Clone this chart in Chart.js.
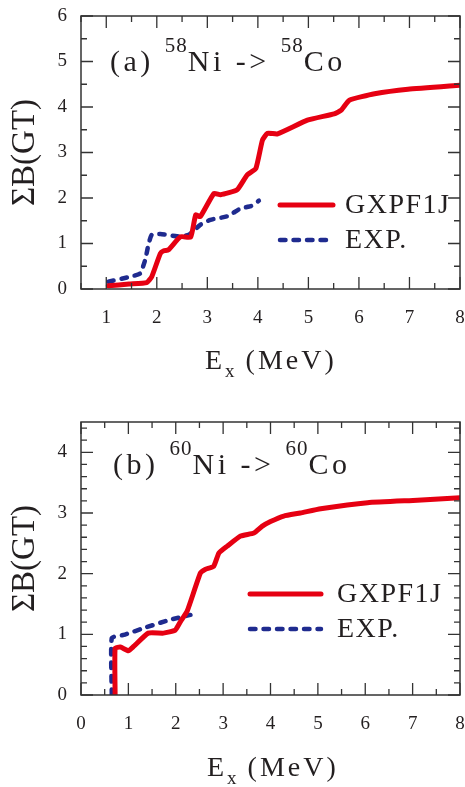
<!DOCTYPE html>
<html>
<head>
<meta charset="utf-8">
<script src="https://cdn.jsdelivr.net/npm/chart.js@4"></script>
<style>
  html, body { margin:0; padding:0; background:#fff; }
  #wrap { position:relative; width:465px; height:787px; overflow:hidden; }
  canvas { position:absolute; left:0; }
  .txt { position:absolute; font-family:"Liberation Serif", "Times New Roman", serif; color:#231f20; white-space:nowrap; line-height:1; }
  .ann { font-size:30px; letter-spacing:3.5px; }
  .ann sup { font-size:21px; letter-spacing:1px; vertical-align:0; position:relative; top:-19px; }
  .xt { font-size:28px; letter-spacing:3px; }
  .xt sub { font-size:19px; vertical-align:0; position:relative; top:8px; letter-spacing:1px; }
</style>
</head>
<body>
<div id="wrap">
  <canvas id="c1" width="465" height="390" style="top:0"></canvas>
  <canvas id="c2" width="465" height="397" style="top:390px"></canvas>
  <div class="txt ann" style="left:110px; top:46px">(a) <sup>58</sup>Ni -&gt; <sup>58</sup>Co</div>
  <div class="txt ann" style="left:113px; top:449px">(b) <sup>60</sup>Ni -&gt; <sup>60</sup>Co</div>
  <div class="txt xt" style="left:205px; top:346px">E<sub>x</sub> (MeV)</div>
  <div class="txt xt" style="left:207px; top:753px">E<sub>x</sub> (MeV)</div>
</div>
<script>
// ---- data: panel (a) 58Ni -> 58Co ----
const gxpfA_x = [1.04, 1.45, 1.80, 1.90, 2.07, 2.14, 2.23, 2.47, 2.67, 2.77, 2.86, 3.13, 3.26, 3.59, 3.79, 3.96, 4.09, 4.19, 4.39, 4.98, 5.51, 5.65, 5.81, 6.31, 6.97, 8.00];
const gxpfA_y = [0.07, 0.11, 0.14, 0.27, 0.78, 0.84, 0.86, 1.15, 1.14, 1.63, 1.59, 2.10, 2.07, 2.18, 2.51, 2.65, 3.27, 3.42, 3.41, 3.71, 3.85, 3.93, 4.15, 4.29, 4.39, 4.48];
const expA_x = [1.04, 1.47, 1.67, 1.77, 1.84, 1.90, 2.07, 2.40, 2.63, 2.86, 3.06, 3.40, 3.66, 3.86, 4.02];
const expA_y = [0.16, 0.27, 0.34, 0.64, 1.00, 1.19, 1.21, 1.16, 1.19, 1.41, 1.52, 1.60, 1.77, 1.82, 1.94];

// ---- data: panel (b) 60Ni -> 60Co ----
const gxpfB_x = [0.72, 0.72, 0.83, 1.00, 1.11, 1.42, 1.74, 1.99, 2.10, 2.24, 2.52, 2.62, 2.80, 2.91, 3.08, 3.37, 3.65, 3.82, 4.00, 4.28, 4.63, 5.06, 6.05, 7.10, 8.00];
const gxpfB_y = [0.00, 0.77, 0.79, 0.73, 0.80, 1.02, 1.02, 1.07, 1.21, 1.38, 2.01, 2.07, 2.12, 2.34, 2.45, 2.62, 2.67, 2.78, 2.86, 2.95, 3.00, 3.07, 3.17, 3.21, 3.25];
const expB_x = [0.65, 0.65, 0.90, 1.39, 1.88, 2.31];
const expB_y = [0.00, 0.94, 0.99, 1.12, 1.24, 1.32];

const seriesLabels = ['GXPF1J', 'EXP.'];
const yTitle = 'ΣB(GT)';

const FONT = '"Liberation Serif", "Times New Roman", serif';
const INK = '#231f20';
const RED = '#e60012';
const BLUE = '#1f2b8f';

const pts = (xs, ys) => xs.map((x, i) => ({x, y: ys[i]}));

const framePlugin = {
  id: 'frameTicks',
  afterDatasetsDraw(chart, args, o) {
    const {ctx, chartArea: a, scales: {x, y}} = chart;
    ctx.save();
    ctx.strokeStyle = '#333';
    ctx.lineWidth = 1.5;
    ctx.setLineDash([]);
    ctx.strokeRect(a.left, a.top, a.right - a.left, a.bottom - a.top);
    ctx.lineWidth = 1.3;
    const eps = 1e-6;
    const major = (s, v) => s.ticks.some(t => Math.abs(t.value - v) < eps);
    for (let v = x.min; v <= x.max + eps; v += o.xMinor) {
      const px = x.getPixelForValue(v);
      const L = major(x, v) ? o.majorLen : o.minorLen;
      ctx.beginPath();
      ctx.moveTo(px, a.bottom); ctx.lineTo(px, a.bottom - L);
      ctx.moveTo(px, a.top); ctx.lineTo(px, a.top + L);
      ctx.stroke();
    }
    for (let v = y.min; v <= y.max + eps; v += o.yMinor) {
      const py = y.getPixelForValue(v);
      const L = major(y, v) ? o.majorLen : o.minorLen;
      ctx.beginPath();
      ctx.moveTo(a.left, py); ctx.lineTo(a.left + L, py);
      ctx.moveTo(a.right, py); ctx.lineTo(a.right - L, py);
      ctx.stroke();
    }
    ctx.restore();
  }
};

const legendPlugin = {
  id: 'insideLegend',
  afterDatasetsDraw(chart, args, o) {
    const {ctx} = chart;
    ctx.save();
    chart.data.datasets.forEach((ds, i) => {
      const yy = o.y + i * o.rowH;
      ctx.strokeStyle = ds.borderColor;
      ctx.lineWidth = ds.borderWidth;
      ctx.lineCap = ds.borderCapStyle || 'butt';
      ctx.setLineDash(ds.borderDash || []);
      ctx.beginPath();
      ctx.moveTo(o.x, yy); ctx.lineTo(o.x + o.len, yy);
      ctx.stroke();
      ctx.setLineDash([]);
      ctx.fillStyle = INK;
      ctx.font = '28px ' + FONT;
      ctx.letterSpacing = '1.5px';
      ctx.textBaseline = 'middle';
      ctx.textAlign = 'left';
      ctx.fillText(ds.label, o.textX, yy + 1);
    });
    ctx.restore();
  }
};

function makeChart(id, gx, gy, ex, ey, cfg) {
  return new Chart(document.getElementById(id), {
    type: 'line',
    data: {
      datasets: [
        { label: seriesLabels[0], data: pts(gx, gy), borderColor: RED, backgroundColor: RED,
          borderWidth: 5, pointRadius: 0, tension: 0.15, borderCapStyle: 'round', borderJoinStyle: 'round' },
        { label: seriesLabels[1], data: pts(ex, ey), borderColor: BLUE, backgroundColor: BLUE,
          borderWidth: 4.5, pointRadius: 0, tension: 0.15, borderDash: [5.5, 8], borderCapStyle: 'round', borderJoinStyle: 'round' }
      ]
    },
    options: {
      responsive: false,
      animation: false,
      events: [],
      layout: { padding: { left: 0, right: 5, top: cfg.padTop, bottom: 0 } },
      plugins: {
        legend: { display: false },
        tooltip: { enabled: false },
        frameTicks: { xMinor: 0.5, yMinor: cfg.yMinor, majorLen: 12, minorLen: 6 },
        insideLegend: cfg.legend
      },
      scales: {
        x: {
          type: 'linear', min: cfg.xMin, max: 8,
          grid: { display: false, drawTicks: false },
          border: { display: false },
          ticks: { stepSize: 1, includeBounds: false, padding: 18, color: INK, font: { family: FONT, size: 19 }, maxRotation: 0 },
          afterFit(s) { s.height = cfg.xAxisH; s.paddingLeft = 0; s.paddingRight = 0; }
        },
        y: {
          type: 'linear', min: 0, max: cfg.yMax,
          grid: { display: false, drawTicks: false },
          border: { display: false },
          ticks: { stepSize: 1, includeBounds: false, padding: 14, color: INK, font: { family: FONT, size: 19 } },
          title: { display: true, text: yTitle, color: INK, font: { family: FONT, size: 33 }, padding: { top: 6, bottom: 0 } },
          afterFit(s) { s.width = 81; s.paddingTop = 0; s.paddingBottom = 0; }
        }
      }
    },
    plugins: [framePlugin, legendPlugin]
  });
}

makeChart('c1', gxpfA_x, gxpfA_y, expA_x, expA_y, {
  xMin: 0.5, yMax: 6, yMinor: 0.5, padTop: 16, xAxisH: 101,
  legend: { x: 280, y: 205, rowH: 35, len: 53, textX: 345 }
});
makeChart('c2', gxpfB_x, gxpfB_y, expB_x, expB_y, {
  xMin: 0, yMax: 4.5, yMinor: 0.2, padTop: 32, xAxisH: 92,
  legend: { x: 250, y: 204, rowH: 35, len: 71, textX: 337 }
});
</script>
</body>
</html>
